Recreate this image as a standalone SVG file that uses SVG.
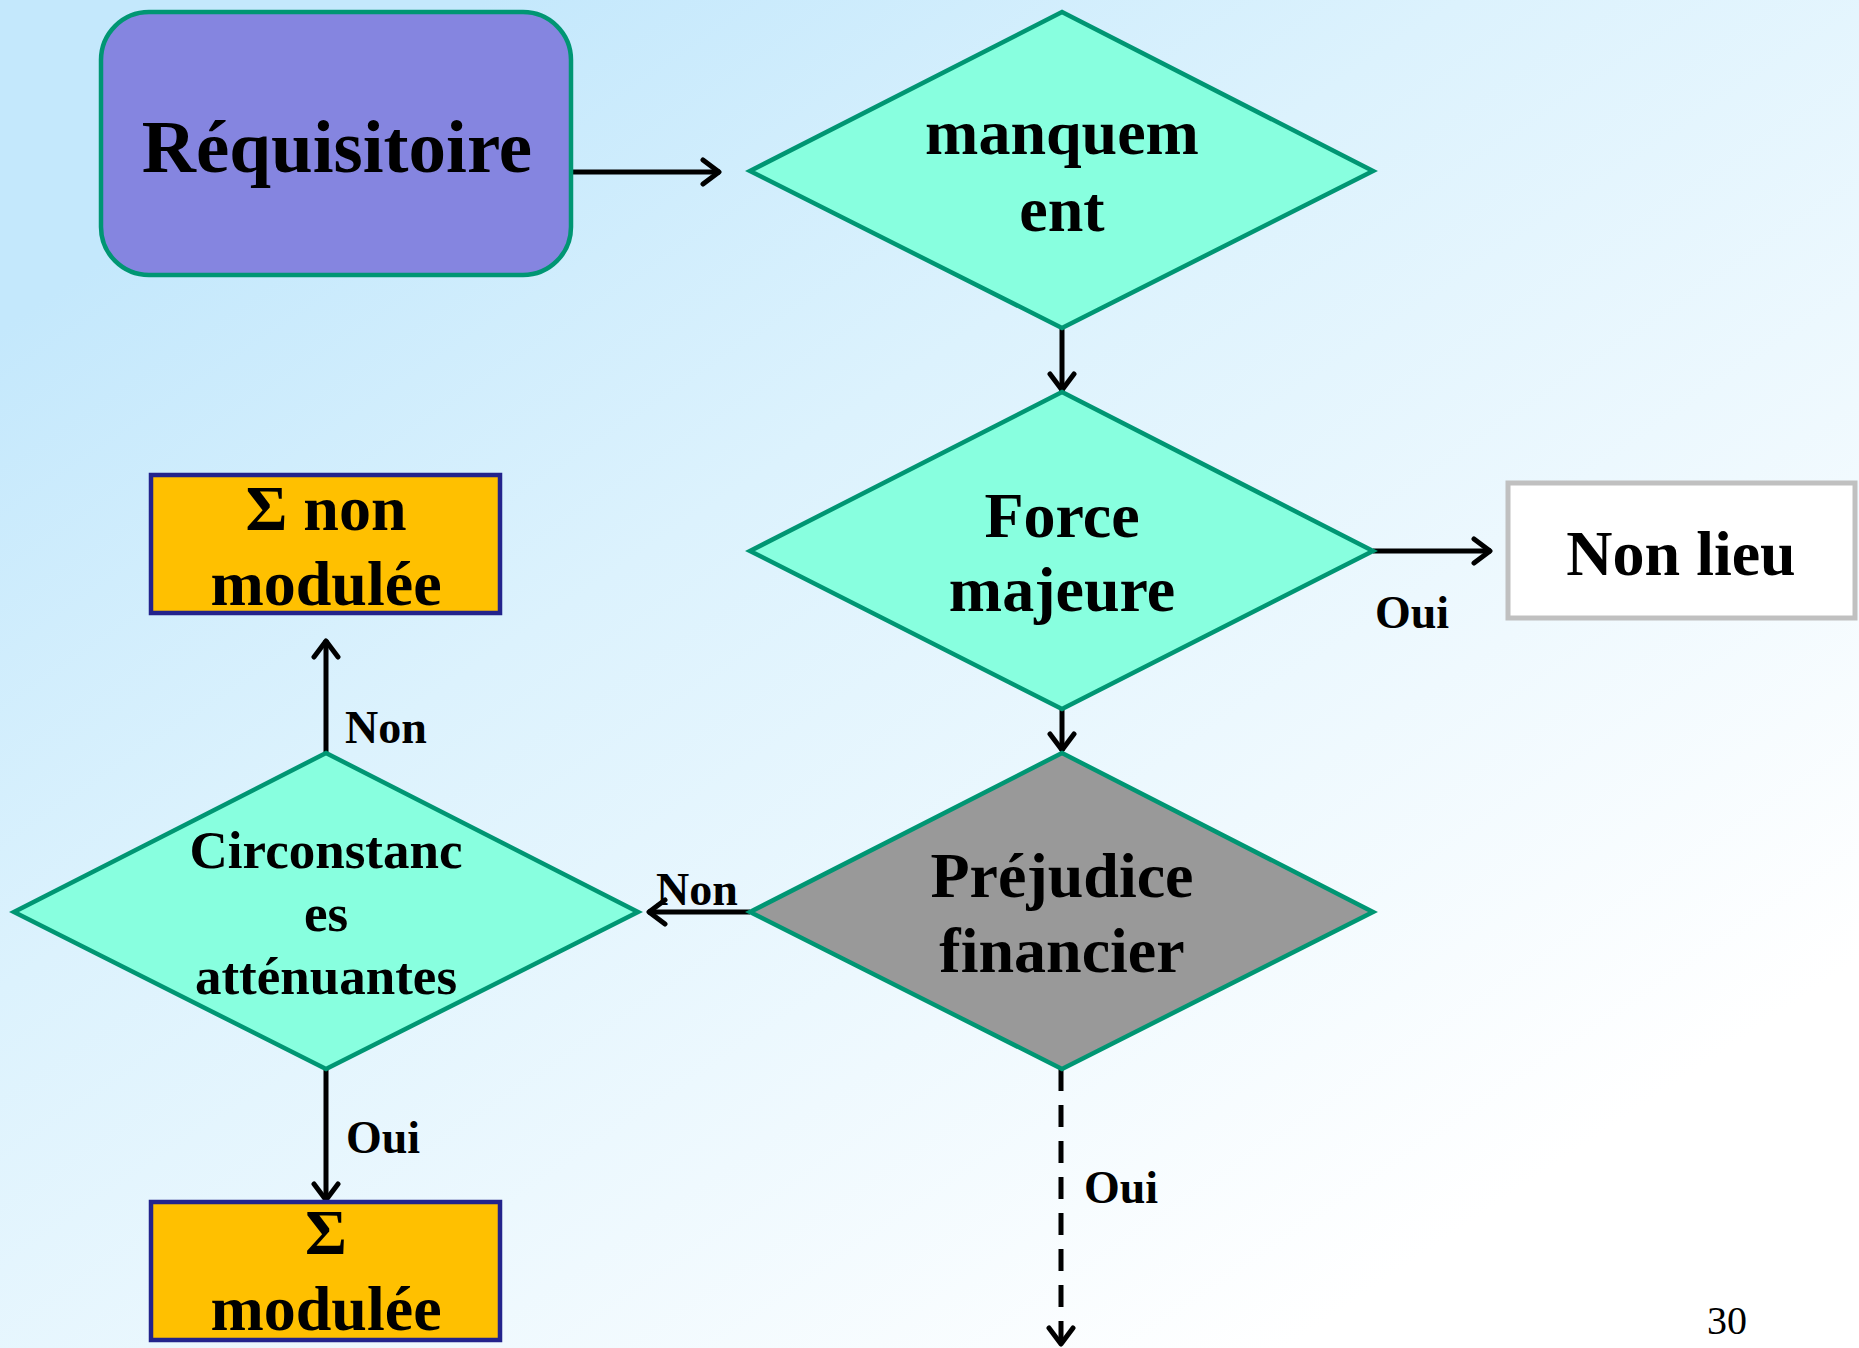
<svg xmlns="http://www.w3.org/2000/svg" width="1859" height="1348" viewBox="0 0 1859 1348">
<defs>
<linearGradient id="bg" x1="0.1" y1="0.15" x2="0.8" y2="0.9">
<stop offset="0" stop-color="#C4E8FC"/>
<stop offset="0.35" stop-color="#DCF2FD"/>
<stop offset="1" stop-color="#FFFFFF"/>
</linearGradient>
<marker id="arr" markerUnits="userSpaceOnUse" viewBox="0 0 22 30" markerWidth="22" markerHeight="30" refX="20" refY="15" orient="auto">
<path d="M3,3 L19,15 L3,27" fill="none" stroke="#000" stroke-width="5" stroke-linecap="round" stroke-linejoin="round"/>
</marker>
</defs>
<style>
.t{font-family:"Liberation Serif","Times New Roman",serif;font-weight:bold;fill:#000;text-anchor:middle}
.dia{fill:#88FFDF;stroke:#009673;stroke-width:4.5}
.gold{fill:#FFC000;stroke:#23238C;stroke-width:4.5}
.c{fill:none;stroke:#000;stroke-width:5;marker-end:url(#arr)}
.lbl{font-family:"Liberation Serif","Times New Roman",serif;font-weight:bold;font-size:46px;fill:#000}
</style>
<rect x="0" y="0" width="1859" height="1348" fill="url(#bg)"/>

<g id="connectors">
<line class="c" x1="571" y1="172" x2="720" y2="172"/>
<line class="c" x1="1062" y1="328" x2="1062" y2="391"/>
<line class="c" x1="1373" y1="551" x2="1491" y2="551"/>
<line class="c" x1="1062" y1="709" x2="1062" y2="751"/>
<line class="c" x1="750" y1="912" x2="648" y2="912"/>
<line class="c" x1="326" y1="753" x2="326" y2="640"/>
<line class="c" x1="326" y1="1069" x2="326" y2="1201"/>
<line class="c" x1="1061" y1="1069" x2="1061" y2="1345" stroke-dasharray="22,14"/>
<text class="lbl" x="1375" y="628">Oui</text>
<text class="lbl" x="656" y="905">Non</text>
<text class="lbl" x="345" y="743">Non</text>
<text class="lbl" x="346" y="1153">Oui</text>
<text class="lbl" x="1084" y="1203">Oui</text>
</g>

<g id="requisitoire">
<rect x="101" y="12" width="470" height="263" rx="48" ry="48" fill="#8585E0" stroke="#009673" stroke-width="4.5"/>
<text class="t" x="337" y="172" font-size="75">Réquisitoire</text>
</g>

<g id="manquement">
<polygon class="dia" points="1062,12 1373,171 1062,328 750,171"/>
<text class="t" x="1062" y="154" font-size="64">manquem</text>
<text class="t" x="1062" y="231" font-size="64">ent</text>
</g>

<g id="force-majeure">
<polygon class="dia" points="1062,392 1373,551 1062,709 750,551"/>
<text class="t" x="1062" y="537" font-size="64">Force</text>
<text class="t" x="1062" y="611" font-size="64">majeure</text>
</g>

<g id="non-lieu">
<rect x="1508" y="483" width="347" height="135" fill="#FFFFFF" stroke="#C0C0C0" stroke-width="5"/>
<text class="t" x="1681" y="575" font-size="64">Non lieu</text>
</g>

<g id="prejudice">
<polygon class="dia" points="1062,753 1373,912 1062,1069 750,912" style="fill:#999999"/>
<text class="t" x="1062" y="897" font-size="64">Préjudice</text>
<text class="t" x="1062" y="972" font-size="64">financier</text>
</g>

<g id="circonstances">
<polygon class="dia" points="326,753 638,912 326,1069 14,912"/>
<text class="t" x="326" y="868" font-size="53">Circonstanc</text>
<text class="t" x="326" y="931" font-size="53">es</text>
<text class="t" x="326" y="994" font-size="53">atténuantes</text>
</g>

<g id="non-modulee">
<rect class="gold" x="151" y="475" width="349" height="138"/>
<text class="t" x="326" y="530" font-size="64">Σ non</text>
<text class="t" x="326" y="605" font-size="64">modulée</text>
</g>

<g id="modulee">
<rect class="gold" x="151" y="1202" width="349" height="138"/>
<text class="t" x="326" y="1254" font-size="64">Σ</text>
<text class="t" x="326" y="1330" font-size="64">modulée</text>
</g>

<text x="1707" y="1334" font-family="Liberation Serif, Times New Roman, serif" font-size="40" fill="#000">30</text>
</svg>
